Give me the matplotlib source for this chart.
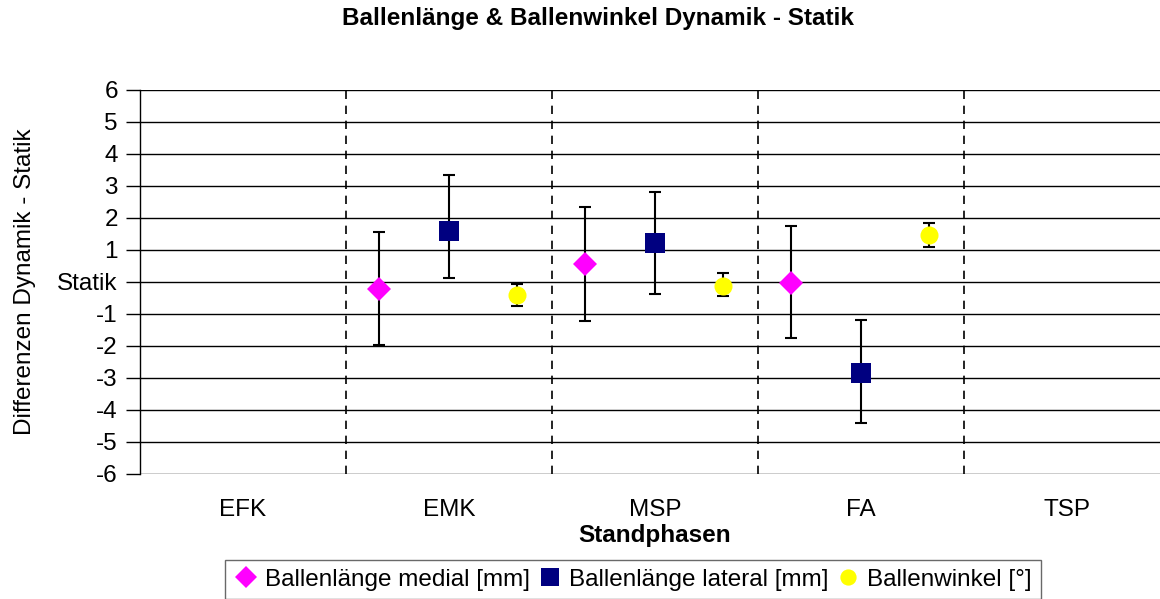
import matplotlib.pyplot as plt

plt.rcParams['font.family'] = ['Liberation Sans', 'DejaVu Sans']

# categories (stance phases)
phases = ['EFK', 'EMK', 'MSP', 'FA', 'TSP']

# values per phase (None = no data)
medial = [None, -0.22, 0.56, -0.03, None]
medial_lo = [None, -1.97, -1.22, -1.75, None]
medial_hi = [None, 1.55, 2.34, 1.75, None]

lateral = [None, 1.59, 1.22, -2.84, None]
lateral_lo = [None, 0.13, -0.38, -4.41, None]
lateral_hi = [None, 3.34, 2.81, -1.19, None]

winkel = [None, -0.41, -0.12, 1.47, None]
winkel_lo = [None, -0.75, -0.44, 1.09, None]
winkel_hi = [None, -0.06, 0.28, 1.84, None]

yticks = [-6, -5, -4, -3, -2, -1, 0, 1, 2, 3, 4, 5, 6]
ytick_labels = ['-6', '-5', '-4', '-3', '-2', '-1', 'Statik', '1', '2', '3', '4', '5', '6']

FS = 17.5


def series(vals, lo, hi, offset):
    xs, ys, el, eh = [], [], [], []
    for i, v in enumerate(vals):
        if v is None:
            continue
        xs.append(i + offset)
        ys.append(v)
        el.append(v - lo[i])
        eh.append(hi[i] - v)
    return xs, ys, [el, eh]


fig = plt.figure(figsize=(11.6, 5.99), dpi=100)
ax = fig.add_axes([140 / 1160, 1 - 474 / 599, 1030 / 1160, 384 / 599])

styles = [
    (medial, medial_lo, medial_hi, -0.34, 'D', '#ff00ff', 12, 'Ballenlänge medial [mm]'),
    (lateral, lateral_lo, lateral_hi, 0.0, 's', '#000080', 15, 'Ballenlänge lateral [mm]'),
    (winkel, winkel_lo, winkel_hi, 0.33, 'o', '#ffff00', 13, 'Ballenwinkel [°]'),
]
for vals, lo, hi, off, mk, col, ms, lab in styles:
    xs, ys, err = series(vals, lo, hi, off)
    ax.errorbar(xs, ys, yerr=err, fmt='none', ecolor='black', elinewidth=1.5,
                capsize=4.5, capthick=1.5, zorder=3)
    ax.plot(xs, ys, linestyle='none', marker=mk, color=col, markersize=ms,
            markeredgewidth=0, label=lab, zorder=4)

for b in [0.5, 1.5, 2.5, 3.5]:
    ax.axvline(b, color='black', linestyle=(0, (5, 4)), linewidth=1.2, zorder=2)

ax.set_xlim(-0.5, 4.5)
ax.set_ylim(-6, 6)
ax.set_yticks(yticks)
ax.set_yticklabels(ytick_labels, fontsize=FS)
ax.set_xticks(range(len(phases)))
ax.set_xticklabels(phases, fontsize=FS)
ax.tick_params(axis='x', length=0, pad=18)
ax.tick_params(axis='y', length=10, width=1, direction='out', pad=6)
ax.yaxis.grid(True, color='black', linewidth=1)
ax.set_axisbelow(True)
for s in ['top', 'right', 'bottom']:
    ax.spines[s].set_visible(False)
ax.spines['left'].set_linewidth(1)

ax.set_ylabel('Differenzen Dynamik - Statik', fontsize=FS, labelpad=15)
ax.set_xlabel('Standphasen', fontsize=FS, fontweight='bold', labelpad=2)
fig.text(598 / 1160, 1 - 19 / 599, 'Ballenlänge & Ballenwinkel Dynamik - Statik',
         ha='center', va='center', fontsize=FS, fontweight='bold')

leg = fig.legend(loc='upper left', bbox_to_anchor=(225 / 1160, 1 - 560 / 599),
                 ncol=3, fontsize=FS, frameon=True, fancybox=False,
                 edgecolor='#444444', handletextpad=0.3, columnspacing=0.3,
                 borderpad=0.35, borderaxespad=0, handlelength=1.0, markerscale=0.9)
leg.get_frame().set_linewidth(1)

fig.savefig('out.png', dpi=100)
